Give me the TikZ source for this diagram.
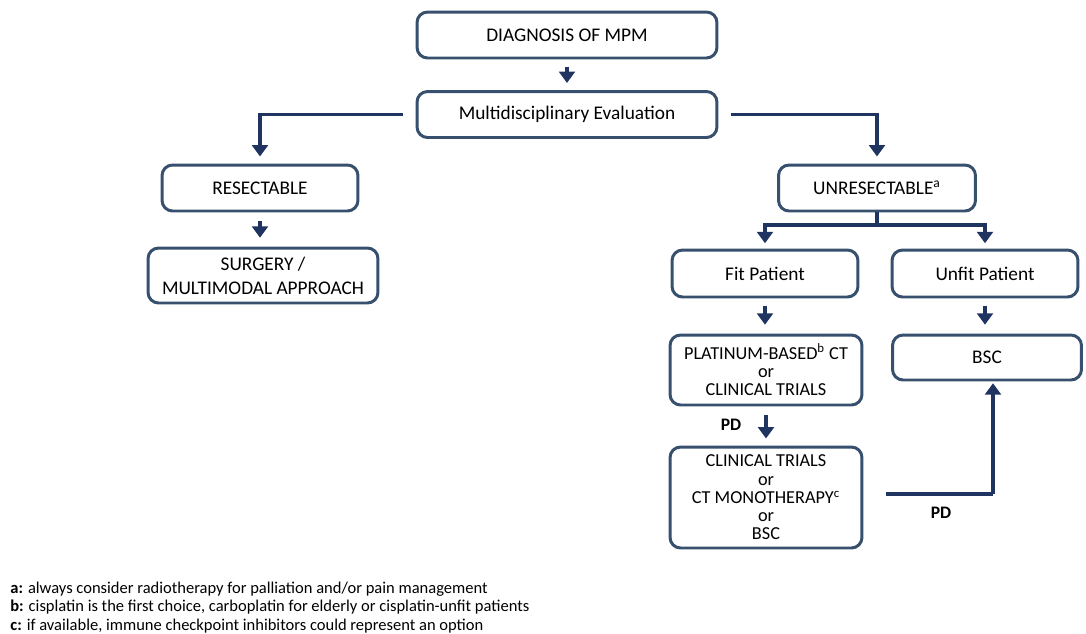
\documentclass[tikz,border=0pt]{standalone}
\usepackage{fontspec}
\setmainfont{Carlito}
\usetikzlibrary{arrows.meta}

\definecolor{boxline}{RGB}{55,80,110}
\definecolor{arrowblue}{RGB}{31,52,96}

\tikzset{
  box/.style={draw=boxline, line width=1.7pt, rounded corners=6pt, align=center,
    font=\fontsize{11}{13.5}\selectfont, inner sep=2pt},
  tallbox/.style={box, font=\fontsize{10.4}{10.4}\selectfont},
  flow/.style={draw=arrowblue, line width=1.8pt, -{Triangle[length=6.5pt,width=9pt]}},
  pdlabel/.style={font=\fontsize{10}{12}\selectfont\bfseries},
  note/.style={anchor=west, font=\fontsize{9.4}{11}\selectfont, inner sep=0pt}
}

\begin{document}
\begin{tikzpicture}[x=0.02cm, y=-0.02cm]
        \useasboundingbox (0,0) rectangle (1086,633);
        % Tronc commun
        \node[box, minimum width=6cm, minimum height=0.92cm] (diag) at (567,35) {DIAGNOSIS OF MPM};
        \node[box, minimum width=6cm, minimum height=0.92cm] (mde) at (567,114.5) {Multidisciplinary Evaluation};
        \draw[flow, shorten <=4pt, shorten >=4pt] (diag) -- (mde);
        % Branche gauche
        \node[box, minimum width=3.92cm, minimum height=0.92cm] (res) at (260,188) {RESECTABLE};
        \node[box, minimum width=4.6cm, minimum height=1.1cm] (surg) at (263,275.5) {SURGERY /\\MULTIMODAL APPROACH};
        \draw[flow, shorten <=5pt, shorten >=5pt] (res.south) -- (res.south |- surg.north);
        \draw[flow, shorten <=7pt, shorten >=4pt] (mde.west) -| (res.north);
        % Branche droite
        \node[box, minimum width=3.94cm, minimum height=0.92cm] (unres) at (877,188) {UNRESECTABLE\textsuperscript{a}};
        \draw[flow, shorten <=7pt, shorten >=4pt] (mde.east) -| (unres.north);
        \node[box, minimum width=3.72cm, minimum height=0.94cm] (fit) at (765,273.5) {Fit Patient};
        \node[box, minimum width=3.72cm, minimum height=0.94cm] (unfit) at (985,273.5) {Unfit Patient};
        \coordinate (split) at (877,225);
        \draw[draw=arrowblue, line width=1.8pt] (unres.south) -- (split);
        \draw[flow, shorten >=3pt] (split) -| (fit.north);
        \draw[flow, shorten >=3pt] (split) -| (unfit.north);
        % Patients aptes
        \node[tallbox, minimum width=3.84cm, minimum height=1.4cm] (plat) at (766,370) {PLATINUM-BASED\textsuperscript{b} CT\\or\\CLINICAL TRIALS};
        \draw[flow, shorten <=4pt, shorten >=5pt] (fit.south) -- (fit.south |- plat.north);
        \node[tallbox, minimum width=3.84cm, minimum height=2.02cm] (clin) at (766,497.5) {CLINICAL TRIALS\\or\\CT MONOTHERAPY\textsuperscript{c}\\or\\BSC};
        \draw[flow, shorten <=5pt, shorten >=4pt] (plat.south) -- (plat.south |- clin.north);
        \node[pdlabel] (pd1) at (731,425) {PD};
        % Patients inaptes
        \node[box, minimum width=3.78cm, minimum height=0.9cm] (bsc) at (987,357.5) {BSC};
        \draw[flow, shorten <=4pt, shorten >=5pt] (unfit.south) -- (unfit.south |- bsc.north);
        \coordinate (turn) at (993,494);
        \draw[draw=arrowblue, line width=1.8pt, shorten <=13pt] (clin.east |- turn) -- (turn);
        \draw[flow, shorten >=1pt] (turn) -- (turn |- bsc.south);
        \node[pdlabel] (pd2) at (941,513) {PD};
        % Notes
        \node[note] (na) at (10,589) {\textbf{a:} always consider radiotherapy for palliation and/or pain management};
        \node[note] (nb) at (10,607.5) {\textbf{b:} cisplatin is the first choice, carboplatin for elderly or cisplatin-unfit patients};
        \node[note] (nc) at (10,626) {\textbf{c:} if available, immune checkpoint inhibitors could represent an option};
    \end{tikzpicture}
\end{document}
